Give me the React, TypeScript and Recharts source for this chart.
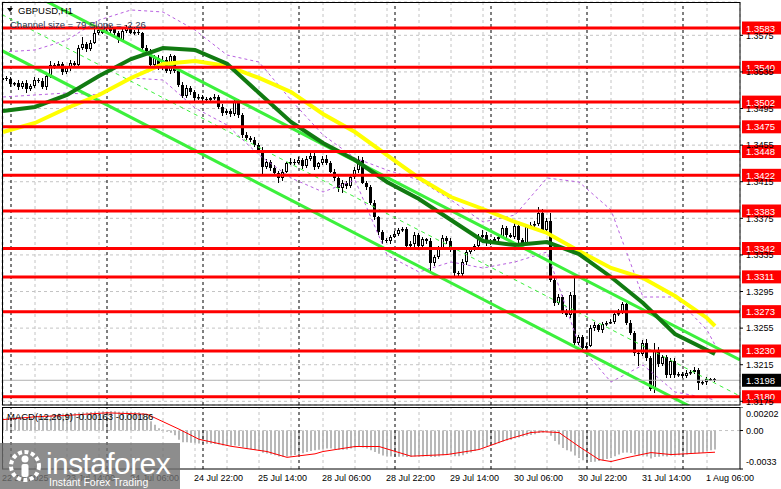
import React from 'react';
import { ComposedChart, Bar, Line, XAxis, YAxis, ReferenceLine, CartesianGrid } from 'recharts';

const FONT = 'Liberation Sans, Arial, sans-serif';

// ---------- price data (H1 candles, 22 Jul 22:00 .. 1 Aug 08:00) ----------
const firstOpen = 1.3526;
const closes = [
  1.3528, 1.3527, 1.3522, 1.3523, 1.3518, 1.3523, 1.3516, 1.3520, 1.3526, 1.3525,
  1.3519, 1.3530, 1.3543, 1.3541, 1.3544, 1.3535, 1.3539, 1.3545, 1.3543, 1.3561,
  1.3565, 1.3560, 1.3567, 1.3578, 1.3581, 1.3578, 1.3580, 1.3582, 1.3577, 1.3570,
  1.3580, 1.3583, 1.3578, 1.3579, 1.3577, 1.3561, 1.3558, 1.3543, 1.3550, 1.3540,
  1.3548, 1.3536, 1.3552, 1.3536, 1.3521, 1.3509, 1.3517, 1.3513, 1.3506, 1.3508,
  1.3505, 1.3504, 1.3506, 1.3508, 1.3497, 1.3490, 1.3492, 1.3489, 1.3502, 1.3488,
  1.3466, 1.3463, 1.3461, 1.3455, 1.3450, 1.3431, 1.3437, 1.3430, 1.3425, 1.3419,
  1.3426, 1.3435, 1.3437, 1.3436, 1.3439, 1.3432, 1.3440, 1.3443, 1.3431, 1.3435,
  1.3440, 1.3436, 1.3426, 1.3419, 1.3408, 1.3414, 1.3410, 1.3420, 1.3428, 1.3439,
  1.3414, 1.3409, 1.3392, 1.3376, 1.3360, 1.3351, 1.3350, 1.3355, 1.3358, 1.3362,
  1.3363, 1.3345, 1.3347, 1.3357, 1.3345, 1.3352, 1.3350, 1.3326, 1.3333, 1.3342,
  1.3353, 1.3350, 1.3340, 1.3315, 1.3314, 1.3327, 1.3338, 1.3341, 1.3345, 1.3355,
  1.3357, 1.3348, 1.3350, 1.3352, 1.3355, 1.3364, 1.3357, 1.3355, 1.3367, 1.3351,
  1.3348, 1.3365, 1.3368, 1.3369, 1.3381, 1.3362, 1.3372, 1.3308, 1.3283, 1.3289,
  1.3273, 1.3269, 1.3291, 1.3239, 1.3245, 1.3233, 1.3236, 1.3255, 1.3258, 1.3253,
  1.3259, 1.3261, 1.3262, 1.3270, 1.3272, 1.3281, 1.3261, 1.3250, 1.3228, 1.3227,
  1.3239, 1.3222, 1.3188, 1.3231, 1.3216, 1.3223, 1.3204, 1.3219, 1.3204, 1.3205,
  1.3203, 1.3206, 1.3207, 1.3209, 1.3195, 1.3196, 1.3199, 1.3199, 1.3198,
];
const upWickPips = [
  2, 3, 2, 1, 3, 2, 3, 2, 3, 2,
  3, 2, 4, 2, 3, 2, 3, 3, 2, 3,
  8, 3, 3, 4, 2, 3, 2, 3, 2, 3,
  2, 3, 2, 2, 3, 2, 3, 2, 4, 3,
  4, 3, 3, 2, 2, 3, 4, 3, 2, 3,
  2, 3, 2, 3, 2, 3, 2, 3, 4, 3,
  2, 3, 2, 3, 2, 3, 3, 2, 3, 2,
  3, 2, 4, 3, 3, 2, 3, 4, 3, 2,
  3, 4, 2, 3, 2, 3, 2, 3, 3, 4,
  3, 2, 2, 3, 2, 2, 3, 2, 3, 2,
  3, 2, 3, 3, 2, 3, 2, 3, 2, 3,
  4, 3, 3, 2, 2, 3, 2, 3, 2, 3,
  5, 3, 2, 3, 2, 4, 3, 2, 4, 3,
  2, 4, 3, 3, 6, 4, 3, 9, 2, 3,
  2, 3, 4, 20, 2, 2, 3, 3, 4, 2,
  3, 2, 3, 3, 4, 3, 2, 3, 2, 3,
  3, 4, 2, 8, 3, 3, 3, 3, 3, 2,
  2, 3, 2, 3, 2, 2, 3, 2, 2,
];
const downWickPips = [
  2, 2, 3, 2, 3, 2, 4, 2, 3, 2,
  3, 4, 2, 3, 2, 3, 2, 3, 2, 2,
  2, 3, 2, 2, 3, 2, 2, 3, 2, 3,
  2, 3, 2, 3, 2, 2, 3, 3, 2, 3,
  3, 2, 3, 2, 3, 3, 2, 3, 3, 2,
  2, 3, 2, 2, 3, 3, 2, 3, 2, 3,
  3, 2, 3, 2, 3, 9, 2, 3, 2, 5,
  3, 2, 2, 3, 2, 3, 2, 2, 3, 2,
  2, 3, 2, 3, 4, 5, 3, 2, 2, 3,
  2, 3, 2, 3, 3, 4, 2, 3, 2, 2,
  2, 3, 2, 3, 3, 2, 3, 10, 3, 2,
  2, 3, 2, 4, 3, 2, 3, 2, 2, 3,
  2, 3, 2, 2, 3, 2, 3, 2, 3, 4,
  3, 2, 2, 3, 2, 3, 2, 3, 4, 3,
  3, 2, 3, 2, 2, 4, 3, 2, 3, 2,
  3, 2, 2, 3, 2, 2, 3, 2, 3, 13,
  3, 3, 2, 4, 3, 2, 4, 3, 3, 2,
  3, 2, 2, 2, 8, 2, 3, 2, 2,
];

// ---------- indicator readings (sampled every 8 bars) ----------
const sampleIdx = [0, 8, 16, 24, 32, 40, 48, 56, 64, 72, 80, 88, 96, 104, 112, 120, 128, 136, 144, 152, 160, 168, 176, 178];
const maFast = [1.34923, 1.34967, 1.35098, 1.35305, 1.35491, 1.35611, 1.3559, 1.3544, 1.3512, 1.34803, 1.34573, 1.34387,
  1.34147, 1.33961, 1.33732, 1.33502, 1.33458, 1.33491, 1.3336, 1.33109, 1.32825, 1.32486, 1.32311, 1.32267];
const maSlow = [1.34693, 1.34792, 1.34956, 1.35098, 1.35284, 1.35437, 1.35469, 1.35415, 1.35284, 1.35131, 1.3489, 1.34693,
  1.34442, 1.34191, 1.33983, 1.33852, 1.3371, 1.3359, 1.33393, 1.33207, 1.33098, 1.32901, 1.32661, 1.32573];
const bandUpper = [1.35568, 1.3559, 1.35699, 1.35917, 1.36027, 1.36005, 1.35808, 1.35535, 1.35458, 1.35043, 1.34661, 1.34409,
  1.34278, 1.34169, 1.3395, 1.3371, 1.33786, 1.34191, 1.34147, 1.33841, 1.3289, 1.3289, 1.3253, 1.32366];
const bandLower = [1.35076, 1.35098, 1.3512, 1.35098, 1.35284, 1.35262, 1.34956, 1.3477, 1.34442, 1.34191, 1.34038, 1.34169,
  1.33349, 1.33163, 1.33273, 1.33207, 1.33273, 1.33382, 1.32366, 1.31961, 1.32147, 1.31852, 1.31786, 1.31764];

// regression channel (size 79 pips, slope -2.26)
const channelIdx = [-0.25, 184.25];
const channelUpper = [1.36372, 1.32202];
const channelSize = 0.0079;

// MACD(12,26,9)
const macdHist = [
  0.00110, 0.00112, 0.00110, 0.00112, 0.00110, 0.00112, 0.00108, 0.00110, 0.00115, 0.00118,
  0.00116, 0.00122, 0.00132, 0.00140, 0.00146, 0.00146, 0.00148, 0.00150, 0.00150, 0.00155,
  0.00158, 0.00158, 0.00160, 0.00163, 0.00166, 0.00166, 0.00166, 0.00167, 0.00165, 0.00162,
  0.00163, 0.00164, 0.00162, 0.00160, 0.00158, 0.00150, 0.00120, 0.00080, 0.00050, 0.00020,
  0.00010, -0.00010, -0.00020, -0.00040, -0.00080, -0.00100, -0.00100, -0.00105, -0.00110, -0.00112,
  -0.00112, -0.00114, -0.00114, -0.00115, -0.00120, -0.00128, -0.00130, -0.00130, -0.00128, -0.00132,
  -0.00145, -0.00155, -0.00160, -0.00168, -0.00175, -0.00190, -0.00198, -0.00205, -0.00212, -0.00222,
  -0.00225, -0.00222, -0.00215, -0.00210, -0.00200, -0.00195, -0.00185, -0.00175, -0.00170, -0.00165,
  -0.00160, -0.00155, -0.00155, -0.00158, -0.00165, -0.00165, -0.00162, -0.00155, -0.00148, -0.00135,
  -0.00145, -0.00155, -0.00170, -0.00185, -0.00200, -0.00215, -0.00220, -0.00222, -0.00225, -0.00225,
  -0.00222, -0.00228, -0.00225, -0.00222, -0.00225, -0.00222, -0.00220, -0.00228, -0.00228, -0.00222,
  -0.00212, -0.00210, -0.00210, -0.00220, -0.00220, -0.00212, -0.00200, -0.00188, -0.00175, -0.00160,
  -0.00148, -0.00140, -0.00130, -0.00120, -0.00110, -0.00095, -0.00085, -0.00078, -0.00065, -0.00060,
  -0.00052, -0.00045, -0.00038, -0.00032, -0.00022, -0.00020, -0.00015, -0.00045, -0.00090, -0.00120,
  -0.00150, -0.00170, -0.00180, -0.00215, -0.00235, -0.00255, -0.00268, -0.00270, -0.00268, -0.00262,
  -0.00255, -0.00245, -0.00235, -0.00220, -0.00205, -0.00190, -0.00188, -0.00192, -0.00205, -0.00215,
  -0.00215, -0.00222, -0.00240, -0.00228, -0.00225, -0.00220, -0.00222, -0.00215, -0.00215, -0.00212,
  -0.00208, -0.00205, -0.00200, -0.00195, -0.00195, -0.00190, -0.00180, -0.00170, -0.00163,
];
const signalIdx = [0, 8, 16, 26, 36, 44, 49, 57, 66, 71, 78, 80, 88, 94, 102, 111, 119, 126, 132, 135, 139, 144, 149, 152, 156, 162, 167, 172, 178];
const signalVals = [0.00094, 0.00118, 0.0013, 0.00152, 0.0014, 0.00012, -0.00075, -0.00135, -0.0018, -0.0023, -0.002, -0.0018,
  -0.00137, -0.00137, -0.0022, -0.00206, -0.00163, -0.00077, -0.00017, -0.0001, -0.00017, -0.00137, -0.00249, -0.00266,
  -0.00232, -0.00189, -0.00206, -0.00197, -0.00186];

// ---------- levels, ticks, labels ----------
const levels = [1.3583, 1.3540, 1.3502, 1.3475, 1.3448, 1.3422, 1.3383, 1.3342, 1.3311, 1.3273, 1.3230, 1.3180];
const lastPrice = 1.3198;
const priceTicks = [1.3575, 1.3535, 1.3495, 1.3455, 1.3415, 1.3375, 1.3335, 1.3295, 1.3255, 1.3215, 1.3175];
const macdTicks = [0.00202, 0, -0.0033];
const timeLabels = ['22 Jul 2025', '23 Jul 14:00', '24 Jul 06:00', '24 Jul 22:00', '25 Jul 14:00', '28 Jul 06:00',
  '28 Jul 22:00', '29 Jul 14:00', '30 Jul 06:00', '30 Jul 22:00', '31 Jul 14:00', '1 Aug 06:00'];
const labelIdx = [0, 16, 32, 48, 64, 80, 96, 112, 128, 144, 160, 176];
const gridIdx = [0, 8, 16, 24, 32, 40, 48, 56, 64, 72, 80, 88, 96, 104, 112, 120, 128, 136, 144, 152, 160, 168, 176];
const daySepIdx = [2, 26, 50, 74, 98, 122, 146, 170];

const X_DOMAIN = [-0.25, 184.25];
const P_DOMAIN = [1.317098, 1.361142];

const data = closes.map((c, i) => {
  const o = i === 0 ? firstOpen : closes[i - 1];
  const h = Math.max(o, c) + upWickPips[i] * 0.0001;
  const l = Math.min(o, c) - downWickPips[i] * 0.0001;
  const row: any = { i, o, h, l, c, range: [l, h], hist: macdHist[i] };
  const k = sampleIdx.indexOf(i);
  if (k >= 0) {
    row.maFast = maFast[k];
    row.maSlow = maSlow[k];
    row.bu = bandUpper[k];
    row.bl = bandLower[k];
  }
  const s = signalIdx.indexOf(i);
  if (s >= 0) row.signal = signalVals[s];
  return row;
});

const Candle = (props: any) => {
  const { x, y, width, height, payload } = props;
  if (x == null || y == null) return null;
  const { o, h, l, c } = payload;
  const top = Math.min(y, y + height);
  const bot = Math.max(y, y + height);
  const pix = (v: number) => top + ((h - v) / (h - l)) * (bot - top);
  const n = Math.floor(x + width / 2);
  const yo = pix(o);
  const yc = pix(c);
  const bt = Math.round(Math.min(yo, yc));
  const bb = Math.round(Math.max(yo, yc));
  const bull = c >= o;
  return (
    <g>
      <line x1={n + 0.5} x2={n + 0.5} y1={Math.round(top)} y2={Math.round(bot)} stroke="#000" strokeWidth={1} />
      {bull ? (
        <rect x={n - 0.5} y={bt + 0.5} width={2} height={Math.max(bb - bt - 1, 0.5)} fill="#fff" stroke="#000" strokeWidth={1} />
      ) : (
        <rect x={n - 1} y={bt} width={3} height={Math.max(bb - bt, 1)} fill="#000" />
      )}
    </g>
  );
};

const PriceTick = (p: any) => (
  <text x={p.x + 1} y={p.y} dy={3.3} fontSize={9} fontFamily={FONT} fill="#000" textAnchor="start">
    {Number(p.payload.value).toFixed(4)}
  </text>
);

const MacdTick = (p: any) => {
  const v = Number(p.payload.value);
  const dy = v === macdTicks[0] ? 10 : v === macdTicks[2] ? -4 : 3.3;
  const txt = v === 0 ? '0.00' : v === macdTicks[0] ? '0.00202' : '-0.0033';
  return (
    <text x={p.x + 1} y={p.y} dy={dy} fontSize={9} fontFamily={FONT} fill="#000" textAnchor="start">{txt}</text>
  );
};

const TimeTick = (p: any) => {
  const k = labelIdx.indexOf(p.payload.value);
  return (
    <text x={p.x - 1} y={p.y + 12} fontSize={9} fontFamily={FONT} fill="#000" textAnchor="start">{timeLabels[k]}</text>
  );
};

const LevelLabel = (props: any) => {
  const vb = props.viewBox || {};
  const x = vb.x + vb.width + 2;
  const y = vb.y;
  return (
    <g>
      <rect x={x} y={y - 6.5} width={39} height={13} fill={props.bg} />
      <text x={x + 4} y={y + 3.5} fill="#fff" fontSize={9.5} fontFamily={FONT}>{props.text}</text>
    </g>
  );
};

export default function App() {
  return (
    <div style={{ position: 'absolute', left: 0, top: 0, width: 781, height: 489, background: '#fff', overflow: 'hidden' }}>
      <div style={{ position: 'absolute', left: 0, top: 0 }}>
        <ComposedChart width={781} height={406} data={data} margin={{ top: 2, right: 0, bottom: 1, left: 2 }}>
          <CartesianGrid stroke="#c4c4c4" strokeDasharray="3 3" />
          <XAxis dataKey="i" type="number" domain={X_DOMAIN} ticks={gridIdx} hide allowDataOverflow interval={0} />
          <YAxis orientation="right" width={41} domain={P_DOMAIN} ticks={priceTicks} allowDataOverflow interval={0}
            tick={<PriceTick />} tickSize={3} tickMargin={2} tickLine={{ stroke: '#000' }} axisLine={false} />
          {daySepIdx.map((d) => (
            <ReferenceLine key={'d' + d} x={d} stroke="#000" strokeDasharray="3 3" ifOverflow="hidden" />
          ))}
          <Line dataKey="bu" stroke="#b860e0" strokeWidth={1} strokeDasharray="3 3" dot={false} connectNulls isAnimationActive={false} />
          <Line dataKey="bl" stroke="#b860e0" strokeWidth={1} strokeDasharray="3 3" dot={false} connectNulls isAnimationActive={false} />
          <Bar dataKey="range" shape={<Candle />} barSize={3} isAnimationActive={false} />
          <ReferenceLine ifOverflow="hidden" stroke="#3cf03c" strokeWidth={3}
            segment={[{ x: channelIdx[0], y: channelUpper[0] }, { x: channelIdx[1], y: channelUpper[1] }]} />
          <ReferenceLine ifOverflow="hidden" stroke="#3cf03c" strokeWidth={1} strokeDasharray="4 4"
            segment={[{ x: channelIdx[0], y: channelUpper[0] - channelSize / 2 }, { x: channelIdx[1], y: channelUpper[1] - channelSize / 2 }]} />
          <ReferenceLine ifOverflow="hidden" stroke="#3cf03c" strokeWidth={3}
            segment={[{ x: channelIdx[0], y: channelUpper[0] - channelSize }, { x: channelIdx[1], y: channelUpper[1] - channelSize }]} />
          <Line dataKey="maSlow" stroke="#ffff00" strokeWidth={4} dot={false} connectNulls isAnimationActive={false} />
          <Line dataKey="maFast" stroke="#117a11" strokeWidth={4} dot={false} connectNulls isAnimationActive={false} />
          <ReferenceLine y={lastPrice} stroke="#b0b0b0" strokeWidth={1}
            label={<LevelLabel text={lastPrice.toFixed(4)} bg="#000" />} />
          {levels.map((lv) => (
            <ReferenceLine key={'l' + lv} y={lv} stroke="#ff0000" strokeWidth={3}
              label={<LevelLabel text={lv.toFixed(4)} bg="#ff0000" />} />
          ))}
        </ComposedChart>
      </div>
      <div style={{ position: 'absolute', left: 0, top: 407 }}>
        <ComposedChart width={781} height={82} data={data} margin={{ top: 0, right: 0, bottom: 0, left: 2 }}>
          <XAxis dataKey="i" type="number" domain={X_DOMAIN} ticks={labelIdx} interval={0} allowDataOverflow height={20}
            tick={<TimeTick />} tickLine={false} axisLine={false} tickSize={0} tickMargin={0} />
          <YAxis orientation="right" width={41} domain={[-0.0033, 0.00202]} ticks={macdTicks} interval={0} allowDataOverflow
            tick={<MacdTick />} tickSize={3} tickMargin={2} tickLine={{ stroke: '#000' }} axisLine={false} />
          {gridIdx.map((g) => (
            <ReferenceLine key={'g' + g} x={g} stroke="#c4c4c4" strokeDasharray="3 3" ifOverflow="hidden" />
          ))}
          <ReferenceLine y={0} stroke="#c4c4c4" strokeDasharray="3 3" />
          {daySepIdx.map((d) => (
            <ReferenceLine key={'m' + d} x={d} stroke="#000" strokeDasharray="3 3" ifOverflow="hidden" />
          ))}
          <Bar dataKey="hist" fill="#b8b8b8" barSize={2} isAnimationActive={false} />
          <Line dataKey="signal" stroke="#ff0000" strokeWidth={1} dot={false} connectNulls isAnimationActive={false} />
        </ComposedChart>
      </div>
      <svg width={781} height={489} style={{ position: 'absolute', left: 0, top: 0, pointerEvents: 'none' }}>
        <rect x={2.5} y={2.5} width={737.5} height={402.5} fill="none" stroke="#000" strokeWidth={1} />
        <rect x={2.5} y={407.5} width={737.5} height={61.5} fill="none" stroke="#000" strokeWidth={1} />
        <polygon points="7,8 13,8 10,12" fill="#000" />
        <text x={18} y={14} fontSize={9.5} fontFamily={FONT} fill="#000">GBPUSD,H1</text>
        <text x={10} y={27.5} fontSize={9.5} fontFamily={FONT} fill="#2a3550">Channel size = 79 Slope = -2.26</text>
        <text x={7} y={419.5} fontSize={9.5} fontFamily={FONT} fill="#000">MACD(12,26,9) -0.00163 -0.00186</text>
        <rect x={0} y={443} width={180} height={46} fill="rgba(112,112,112,0.8)" />
        <g fill="#fff">
          <circle cx={25} cy={466} r={14} fill="none" stroke="#fff" strokeWidth={4} strokeDasharray="4 2.5" />
          <circle cx={25} cy={459} r={3.5} />
          <rect x={21.5} y={464} width={7} height={13} rx={2} />
        </g>
        <text x={46} y={474} fontSize={30} fontFamily={FONT} fill="#fff" letterSpacing={-0.6}>instaforex</text>
        <text x={49} y={486} fontSize={10.5} fontFamily={FONT} fill="#fff">Instant Forex Trading</text>
      </svg>
    </div>
  );
}
